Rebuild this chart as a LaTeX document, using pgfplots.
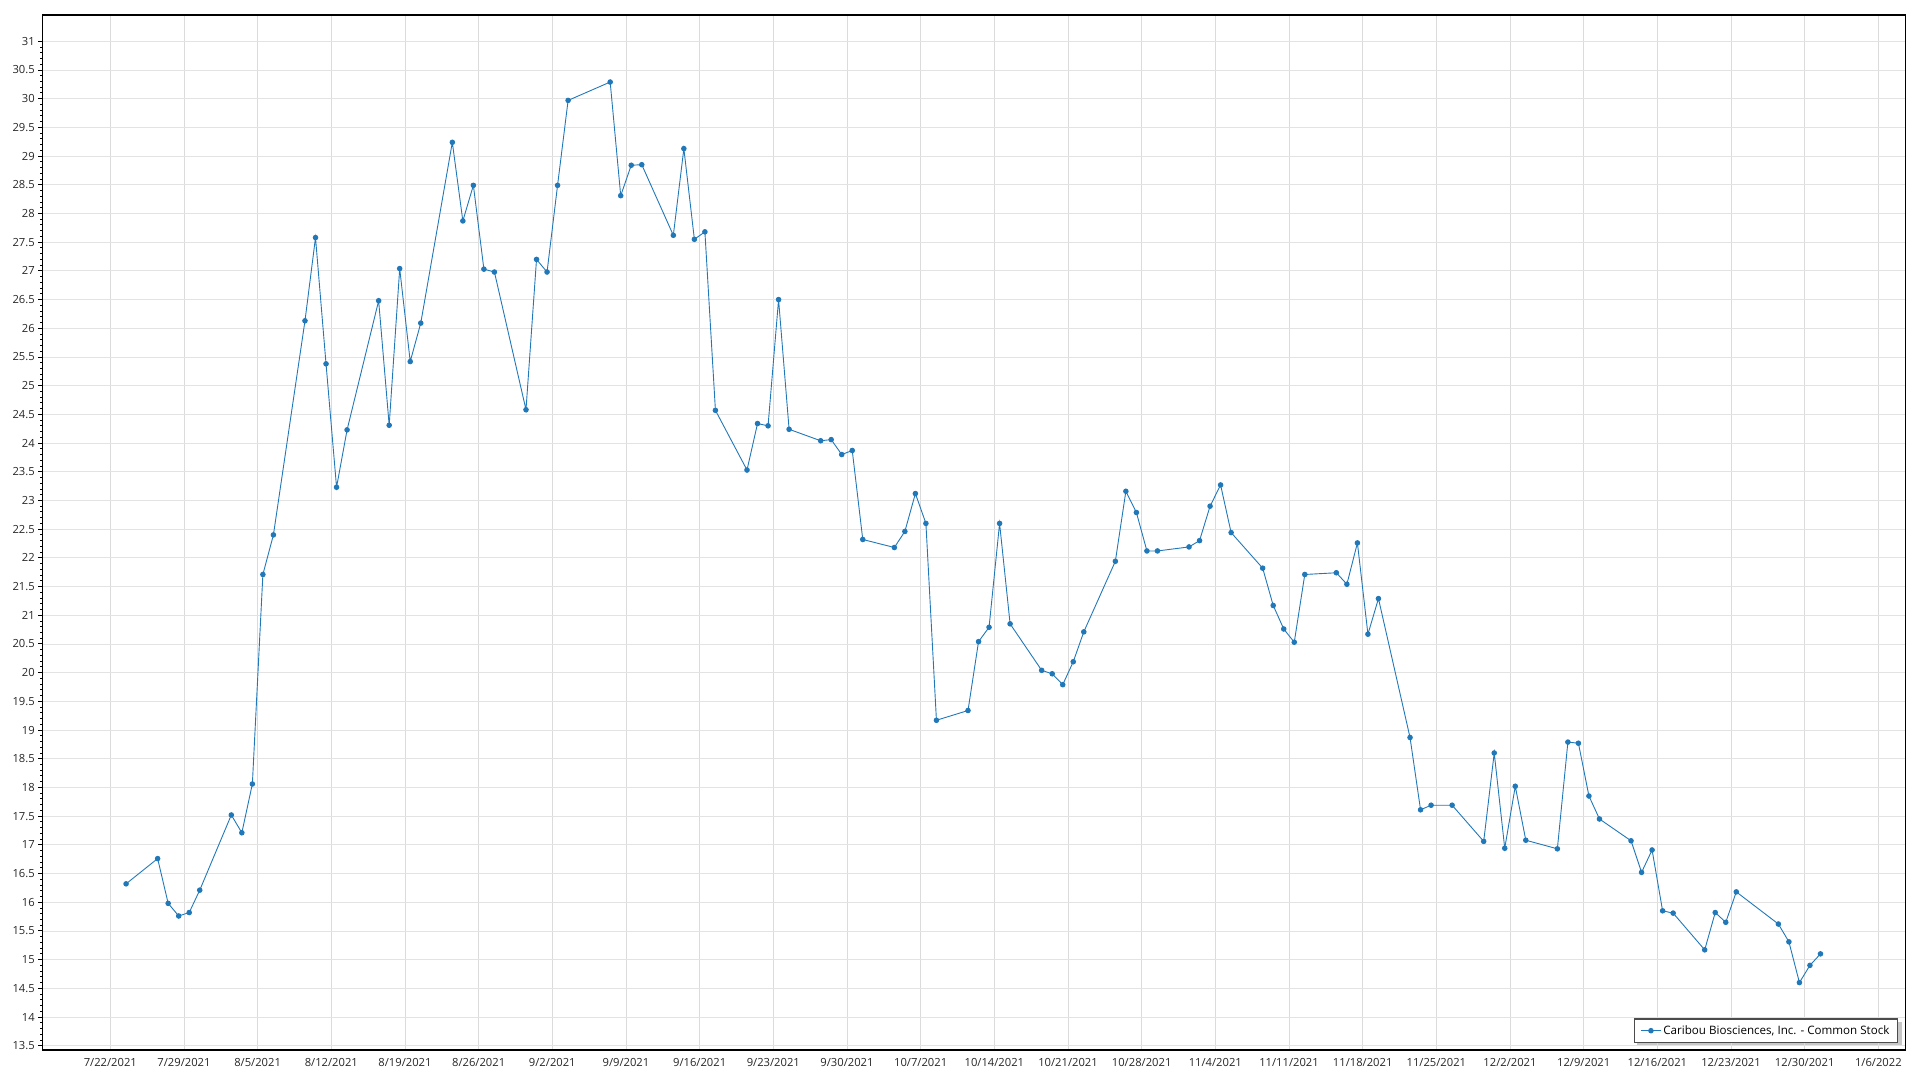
\documentclass[border=0pt]{standalone}
\usepackage{pgfplots}
\pgfplotsset{compat=1.18}
\usepackage{fontspec}
\setmainfont{Open Sans}
\usetikzlibrary{backgrounds}
\definecolor{cblue}{RGB}{33,120,184}
\begin{document}
\begin{tikzpicture}
\useasboundingbox (0,0) rectangle (1920pt,1080pt);
\begin{axis}[
  at={(42.3pt,30pt)}, anchor=south west,
  scale only axis, width=1863pt, height=1035pt,
  xmin=-6.46, xmax=170.56, ymin=13.425, ymax=31.458,
  xtick={0,7,...,168},
  xticklabels={7/22/2021,7/29/2021,8/5/2021,8/12/2021,8/19/2021,8/26/2021,9/2/2021,9/9/2021,9/16/2021,9/23/2021,9/30/2021,10/7/2021,10/14/2021,10/21/2021,10/28/2021,11/4/2021,11/11/2021,11/18/2021,11/25/2021,12/2/2021,12/9/2021,12/16/2021,12/23/2021,12/30/2021,1/6/2022},
  ytick={13.5,14,...,31},
  minor y tick num=4,
  tick pos=left, tick align=outside,
  major tick length=4pt, minor tick length=2.2pt,
  xtick style={/pgfplots/major tick length=0pt, draw opacity=0},
  ytick style={black, line width=0.9pt},
  grid=major,
  x grid style={black!14, line width=0.8pt, draw opacity=1},
  y grid style={black!11, line width=0.8pt},
  axis line style={black, line width=1.3pt},
  /pgf/number format/assume math mode=true,
  ticklabel style={font=\fontsize{11.2}{13}\selectfont, text=black!85},
  xticklabel style={yshift=-1pt},
  legend style={name=leg, at={(0.9961,0.0068)}, anchor=south east,
    draw=black!70, line width=1.2pt, fill=white,
    font=\fontsize{11.6}{13}\selectfont, inner xsep=6pt, inner ysep=4.5pt},
  legend cell align=left,
  legend image code/.code={
    \draw[cblue, line width=0.9pt] (0pt,0pt) -- (20pt,0pt);
    \fill[cblue] (10pt,0pt) circle (2.3pt);
  },
]
\addplot[color=cblue, line width=0.9pt, mark=*, mark size=2.3pt, mark options={solid, fill=cblue}] table {
1.5 16.32
4.5 16.76
5.5 15.98
6.5 15.76
7.5 15.82
8.5 16.21
11.5 17.52
12.5 17.21
13.5 18.06
14.5 21.71
15.5 22.40
18.5 26.13
19.5 27.58
20.5 25.38
21.5 23.23
22.5 24.23
25.5 26.48
26.5 24.31
27.5 27.04
28.5 25.42
29.5 26.09
32.5 29.24
33.5 27.87
34.5 28.49
35.5 27.03
36.5 26.98
39.5 24.58
40.5 27.20
41.5 26.98
42.5 28.49
43.5 29.97
47.5 30.29
48.5 28.31
49.5 28.84
50.5 28.85
53.5 27.62
54.5 29.13
55.5 27.55
56.5 27.68
57.5 24.57
60.5 23.53
61.5 24.34
62.5 24.30
63.5 26.50
64.5 24.24
67.5 24.04
68.5 24.06
69.5 23.80
70.5 23.87
71.5 22.32
74.5 22.18
75.5 22.46
76.5 23.12
77.5 22.60
78.5 19.17
81.5 19.34
82.5 20.54
83.5 20.79
84.5 22.60
85.5 20.85
88.5 20.04
89.5 19.98
90.5 19.79
91.5 20.19
92.5 20.71
95.5 21.94
96.5 23.16
97.5 22.79
98.5 22.12
99.5 22.12
102.5 22.19
103.5 22.30
104.5 22.90
105.5 23.27
106.5 22.44
109.5 21.82
110.5 21.17
111.5 20.76
112.5 20.53
113.5 21.71
116.5 21.74
117.5 21.54
118.5 22.26
119.5 20.67
120.5 21.29
123.5 18.87
124.5 17.61
125.5 17.69
127.5 17.69
130.5 17.06
131.5 18.60
132.5 16.94
133.5 18.02
134.5 17.08
137.5 16.93
138.5 18.79
139.5 18.77
140.5 17.85
141.5 17.45
144.5 17.07
145.5 16.52
146.5 16.91
147.5 15.85
148.5 15.81
151.5 15.17
152.5 15.82
153.5 15.65
154.5 16.18
158.5 15.62
159.5 15.31
160.5 14.60
161.5 14.90
162.5 15.10
};
\addlegendentry{Caribou Biosciences, Inc. - Common Stock}
\end{axis}
\begin{scope}[on background layer]
\fill[black!22] ([shift={(3.5pt,-3.5pt)}]leg.south west) rectangle ([shift={(3.5pt,-3.5pt)}]leg.north east);
\end{scope}
\end{tikzpicture}
\end{document}
